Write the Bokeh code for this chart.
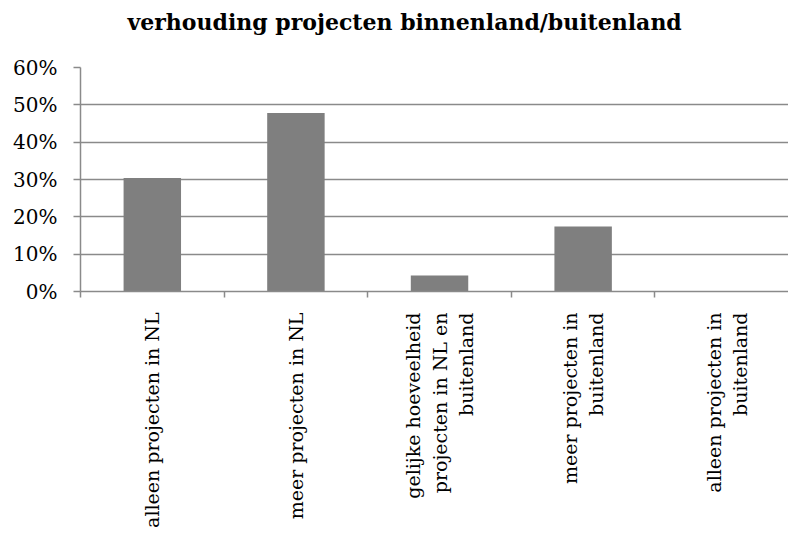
import math
from bokeh.plotting import figure
from bokeh.models import Range1d, FixedTicker, NumeralTickFormatter, ColumnDataSource
from bokeh.embed import file_html
from bokeh.resources import INLINE

title_text = "verhouding projecten binnenland/buitenland"
categories = [
    "alleen projecten in NL",
    "meer projecten in NL",
    "gelijke hoeveelheid\nprojecten in NL en\nbuitenland",
    "meer projecten in\nbuitenland",
    "alleen projecten in\nbuitenland",
]
values = [0.304, 0.478, 0.043, 0.174, 0.0]
y_ticks = [0.0, 0.1, 0.2, 0.3, 0.4, 0.5, 0.6]

centers = [i + 0.5 for i in range(len(categories))]
bounds = list(range(len(categories) + 1))

src = ColumnDataSource(dict(x=centers, top=values))

p = figure(width=788, height=535, output_backend="svg", toolbar_location=None,
           x_range=Range1d(0, 4.93), y_range=Range1d(0, 0.6),
           min_border_left=80, min_border_right=0, min_border_top=66,
           min_border_bottom=244, title=title_text + "\n ")
p.title.align = "left"
p.title.offset = 47
p.title.text_font = "DejaVu Serif"
p.title.text_font_size = "22px"
p.title.text_font_style = "bold"
p.title.text_color = "#000000"
p.title.standoff = 13
p.outline_line_color = None
p.background_fill_color = "white"
p.border_fill_color = "white"

p.vbar(x="x", top="top", width=0.4, source=src, fill_color="#7f7f7f",
       line_color=None)

gray = "#8a8a8a"
font = "DejaVu Serif"
p.yaxis.ticker = FixedTicker(ticks=y_ticks)
p.yaxis.formatter = NumeralTickFormatter(format="0%")
p.yaxis.major_label_text_font = font
p.yaxis.major_label_text_font_size = "20px"
p.yaxis.major_label_text_color = "#000000"
p.yaxis.axis_line_color = gray
p.yaxis.axis_line_width = 1.5
p.yaxis.major_tick_line_color = gray
p.yaxis.major_tick_line_width = 1.5
p.yaxis.major_tick_out = 7
p.yaxis.major_tick_in = 0
p.yaxis.minor_tick_line_color = None
p.yaxis.major_label_standoff = 16

p.xaxis.ticker = FixedTicker(ticks=centers, minor_ticks=bounds)
p.xaxis.major_label_overrides = {c: lab for c, lab in zip(centers, categories)}
p.xaxis.major_label_orientation = math.pi / 2
p.xaxis.major_label_text_font = font
p.xaxis.major_label_text_font_size = "19px"
p.xaxis.major_label_text_color = "#000000"
p.xaxis.major_tick_line_color = None
p.xaxis.minor_tick_line_color = gray
p.xaxis.minor_tick_line_width = 1.5
p.xaxis.minor_tick_out = 6
p.xaxis.minor_tick_in = 0
p.xaxis.axis_line_color = gray
p.xaxis.axis_line_width = 1.5
p.xaxis.major_label_standoff = 15

p.xgrid.grid_line_color = None
p.ygrid.grid_line_color = gray
p.ygrid.grid_line_width = 1.3

open("out.html", "w").write(file_html(p, INLINE))
